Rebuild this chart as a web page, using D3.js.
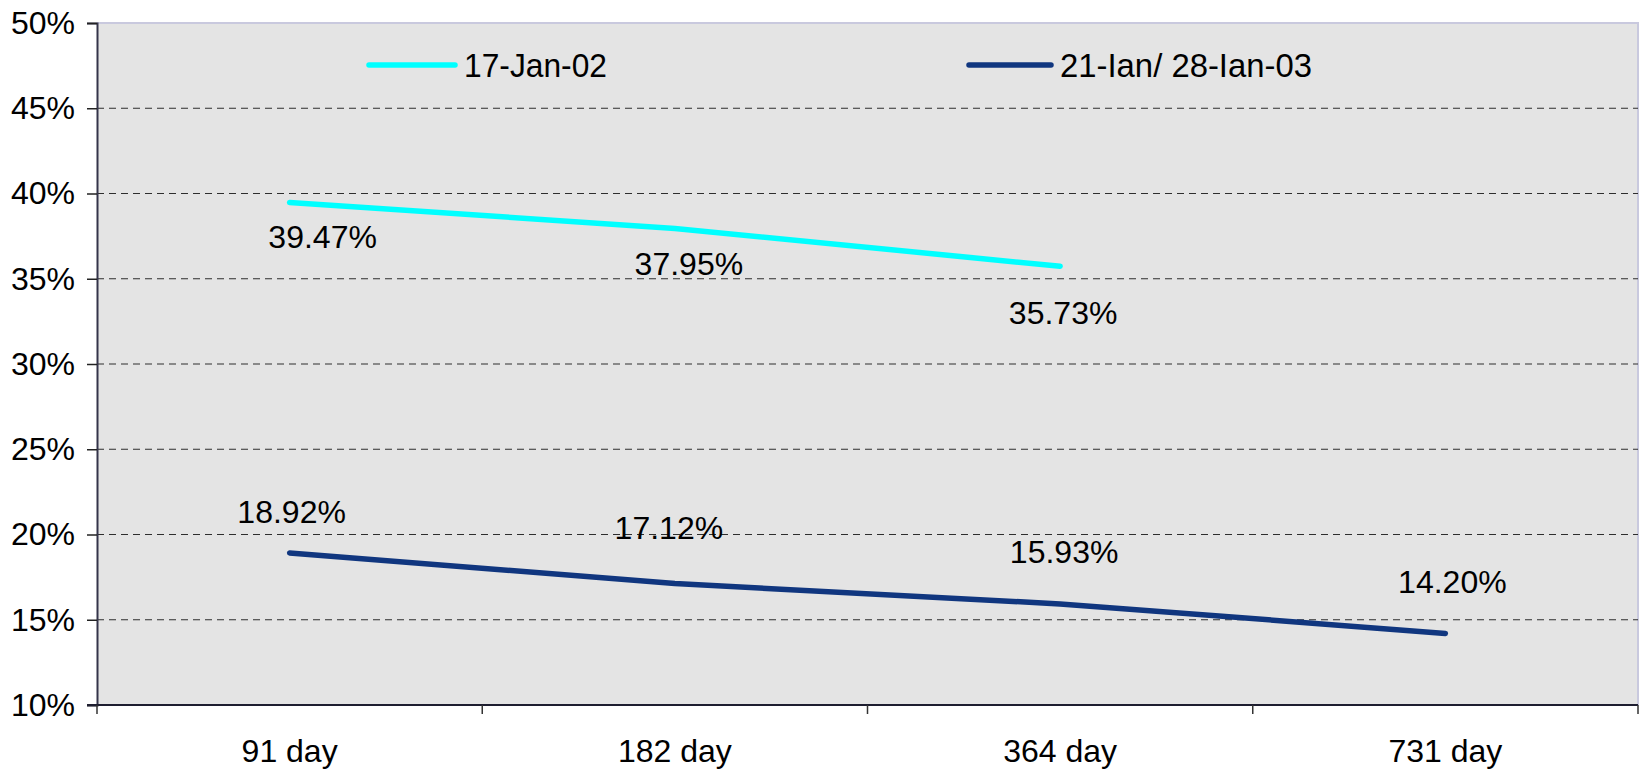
<!DOCTYPE html>
<html>
<head>
<meta charset="utf-8">
<script src="https://cdn.jsdelivr.net/npm/d3@7"></script>
<style>
  html, body { margin: 0; padding: 0; background: #ffffff; }
  svg { display: block; }
  text { font-family: "Liberation Sans", Arial, sans-serif; fill: #000; }
</style>
</head>
<body>
<svg id="chart" width="1642" height="771"></svg>
<script>
// Maturity buckets along the x axis
const categories = ["91 day", "182 day", "364 day", "731 day"];

// Yields for each auction date (fractions)
const seriesNames = ["17-Jan-02", "21-Ian/ 28-Ian-03"];
const jan02 = [0.3947, 0.3795, 0.3573];
const jan03 = [0.1892, 0.1712, 0.1593, 0.1420];

// Y axis tick values
const yTicks = [0.10, 0.15, 0.20, 0.25, 0.30, 0.35, 0.40, 0.45, 0.50];

// Hand-placed data label nudges (pixels from each point)
const jan02LabelNudge = [[33, 34], [14, 35], [3, 46]];
const jan03LabelNudge = [[2, -41], [-6, -56], [4, -52], [7, -52]];

const colors = ["#00ffff", "#10367f"];

const svg = d3.select("#chart");
const m = { left: 97, right: 1638, top: 23, bottom: 705 };

const x = d3.scaleBand().domain(categories).range([m.left, m.right]).padding(0);
const y = d3.scaleLinear().domain([0.10, 0.50]).range([m.bottom, m.top]);
const cx = c => x(c) + x.bandwidth() / 2;

// Plot background
svg.append("rect")
  .attr("x", m.left).attr("y", m.top)
  .attr("width", m.right - m.left).attr("height", m.bottom - m.top)
  .attr("fill", "#e4e4e4");

// Light frame on top and right
svg.append("path")
  .attr("d", `M${m.left},${m.top}H${m.right}V${m.bottom}`)
  .attr("fill", "none").attr("stroke", "#c9c9de").attr("stroke-width", 2);

// Dashed horizontal gridlines
svg.append("g").selectAll("line")
  .data(yTicks.filter(t => t > 0.10 && t < 0.50))
  .join("line")
  .attr("x1", m.left).attr("x2", m.right)
  .attr("y1", d => y(d)).attr("y2", d => y(d))
  .attr("stroke", "#2e2e2e").attr("stroke-width", 1.2)
  .attr("stroke-dasharray", "7,5");

// Y axis
const yAxis = d3.axisLeft(y).tickValues(yTicks).tickSize(10).tickPadding(12)
  .tickFormat(d3.format(".0%"));
const gy = svg.append("g").attr("transform", `translate(${m.left},0)`).call(yAxis);
gy.select(".domain").attr("stroke", "#34344a").attr("stroke-width", 2);
gy.selectAll(".tick line").attr("stroke", "#222").attr("stroke-width", 1.5);
gy.selectAll(".tick text")
  .style("font-family", "'Liberation Sans', Arial, sans-serif")
  .style("font-size", "32px").attr("fill", "#000");

// X axis: ticks at category boundaries, labels at centres
const gx = svg.append("g").attr("transform", `translate(0,${m.bottom})`);
gx.append("line")
  .attr("x1", m.left - 10).attr("x2", m.right)
  .attr("y1", 0).attr("y2", 0)
  .attr("stroke", "#1e1e30").attr("stroke-width", 2);
const bounds = categories.map(c => x(c)).concat([x(categories[categories.length - 1]) + x.bandwidth()]);
gx.selectAll("line.tk").data(bounds).join("line").attr("class", "tk")
  .attr("x1", d => d).attr("x2", d => d)
  .attr("y1", 0).attr("y2", 9)
  .attr("stroke", "#333").attr("stroke-width", 1.5);
gx.selectAll("text").data(categories).join("text")
  .attr("x", d => cx(d)).attr("y", 57)
  .attr("text-anchor", "middle")
  .style("font-size", "32px")
  .text(d => d);

// Series lines
const line = d3.line().x(d => cx(d.c)).y(d => y(d.v));
const series = [
  { name: seriesNames[0], values: jan02, nudge: jan02LabelNudge, color: colors[0] },
  { name: seriesNames[1], values: jan03, nudge: jan03LabelNudge, color: colors[1] }
];

series.forEach(s => {
  const pts = s.values.map((v, i) => ({ c: categories[i], v }));
  svg.append("path")
    .datum(pts)
    .attr("d", line)
    .attr("fill", "none")
    .attr("stroke", s.color)
    .attr("stroke-width", 5.5)
    .attr("stroke-linecap", "round")
    .attr("stroke-linejoin", "round");

  svg.append("g").selectAll("text")
    .data(pts)
    .join("text")
    .attr("x", (d, i) => cx(d.c) + s.nudge[i][0])
    .attr("y", (d, i) => y(d.v) + s.nudge[i][1])
    .attr("dy", "0.36em")
    .attr("text-anchor", "middle")
    .style("font-size", "32px")
    .text(d => d3.format(".2%")(d.v));
});

// Legend inside the plot
const legendItems = [
  { name: seriesNames[0], color: colors[0], x0: 369, x1: 455, tx: 464, w: 143 },
  { name: seriesNames[1], color: colors[1], x0: 969, x1: 1051, tx: 1060, w: 252 }
];
const lg = svg.append("g");
legendItems.forEach(it => {
  lg.append("line")
    .attr("x1", it.x0).attr("x2", it.x1)
    .attr("y1", 65).attr("y2", 65)
    .attr("stroke", it.color).attr("stroke-width", 5.5)
    .attr("stroke-linecap", "round");
  lg.append("text")
    .attr("x", it.tx).attr("y", 65).attr("dy", "0.36em")
    .style("font-family", "'Liberation Sans Narrow', 'Arial Narrow', 'Liberation Sans', sans-serif")
    .style("font-size", "33px")
    .attr("textLength", it.w)
    .attr("lengthAdjust", "spacingAndGlyphs")
    .text(it.name);
});
</script>
</body>
</html>
